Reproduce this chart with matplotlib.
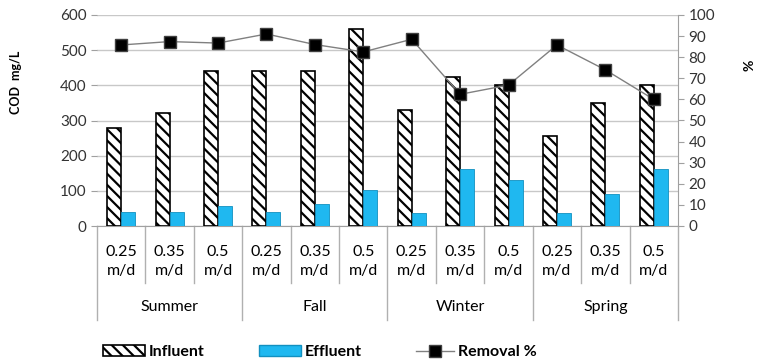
import matplotlib.pyplot as plt
import matplotlib.transforms as mtrans
from matplotlib.patches import Patch
from matplotlib.lines import Line2D
import numpy as np

plt.rcParams['font.family'] = ['Lato', 'DejaVu Sans']
plt.rcParams['hatch.linewidth'] = 1.6

seasons = ['Summer', 'Fall', 'Winter', 'Spring']
rates = ['0.25\nm/d', '0.35\nm/d', '0.5\nm/d']
influent = [280, 320, 440, 440, 440, 560, 330, 425, 400, 255, 350, 400]
effluent = [40, 40, 57, 40, 62, 102, 37, 162, 132, 37, 92, 162]
removal = [85.8, 87.4, 86.7, 91, 86, 82.5, 88.5, 62.4, 66.8, 85.8, 74, 60]

fig = plt.figure(figsize=(7.58, 3.64), dpi=100)
ax = fig.add_axes([97 / 758, 138 / 364, 581 / 758, 211 / 364])
x = np.arange(len(influent))
w = 0.29

ax.bar(x - w / 2, influent, w, color='white', edgecolor='black', hatch='\\\\\\', linewidth=1.2, zorder=3)
ax.bar(x + w / 2, effluent, w, color='#1fb8f0', edgecolor='#1290c0', linewidth=0.6, zorder=3)

ax.set_ylim(0, 600)
ax.set_xlim(-0.5, len(x) - 0.5)
ax.set_yticks(range(0, 601, 100))
ax.yaxis.grid(True, color='#c8c8c8', linewidth=1)
ax.set_axisbelow(True)
for s in ['top', 'right', 'left']:
    ax.spines[s].set_visible(False)
ax.spines['bottom'].set_color('#a0a0a0')
ax.tick_params(axis='y', length=4, color='#a0a0a0', labelsize=11, labelcolor='#333333')
ax.set_xticks([])

ax2 = ax.twinx()
ax2.set_ylim(0, 100)
ax2.set_yticks(range(0, 101, 10))
ax2.plot(x, removal, color='#808080', linewidth=1, marker='s', markersize=9,
         markerfacecolor='black', markeredgecolor='#404040', zorder=5)
for s in ['top', 'left', 'bottom']:
    ax2.spines[s].set_visible(False)
ax2.spines['right'].set_color('#a0a0a0')
ax2.tick_params(axis='y', length=4, color='#a0a0a0', labelsize=11, labelcolor='#333333')

fig.text(16 / 758, 1 - 82 / 364, 'COD  mg/L', rotation=90, ha='center', va='center',
         fontsize=9, fontweight='bold')
fig.text(749 / 758, 1 - 65 / 364, '%', rotation=90, ha='center', va='center',
         fontsize=10, fontweight='bold')

trans = mtrans.blended_transform_factory(ax.transData, ax.transAxes)
for i in range(len(x) + 1):
    bottom = -0.445 if i % 3 == 0 else -0.27
    ax.plot([i - 0.5, i - 0.5], [0, bottom], transform=trans, color='#b0b0b0',
            linewidth=1, clip_on=False)
for i in x:
    ax.text(i, -0.17, rates[i % 3], transform=trans, ha='center', va='center',
            fontsize=11.5, linespacing=1.45)
for k, s in enumerate(seasons):
    ax.text(3 * k + 1, -0.385, s, transform=trans, ha='center', va='center', fontsize=11.5)

items = [
    (Patch(facecolor='white', edgecolor='black', hatch='\\\\\\', linewidth=1.2), 'Influent', 103, 2.6),
    (Patch(facecolor='#1fb8f0', edgecolor='#1290c0'), 'Effluent', 259, 2.6),
    (Line2D([], [], color='#808080', linewidth=1, marker='s', markersize=8,
            markerfacecolor='black', markeredgecolor='#404040'), 'Removal %', 416, 2.4),
]
for h, lab, px, hl in items:
    fig.legend([h], [lab], loc='center left', bbox_to_anchor=(px / 758, 1 - 352 / 364),
               frameon=False, borderpad=0, borderaxespad=0, handlelength=hl,
               handletextpad=0.25, prop={'size': 11.5, 'weight': 'bold'})

fig.savefig('out.png', dpi=100)
